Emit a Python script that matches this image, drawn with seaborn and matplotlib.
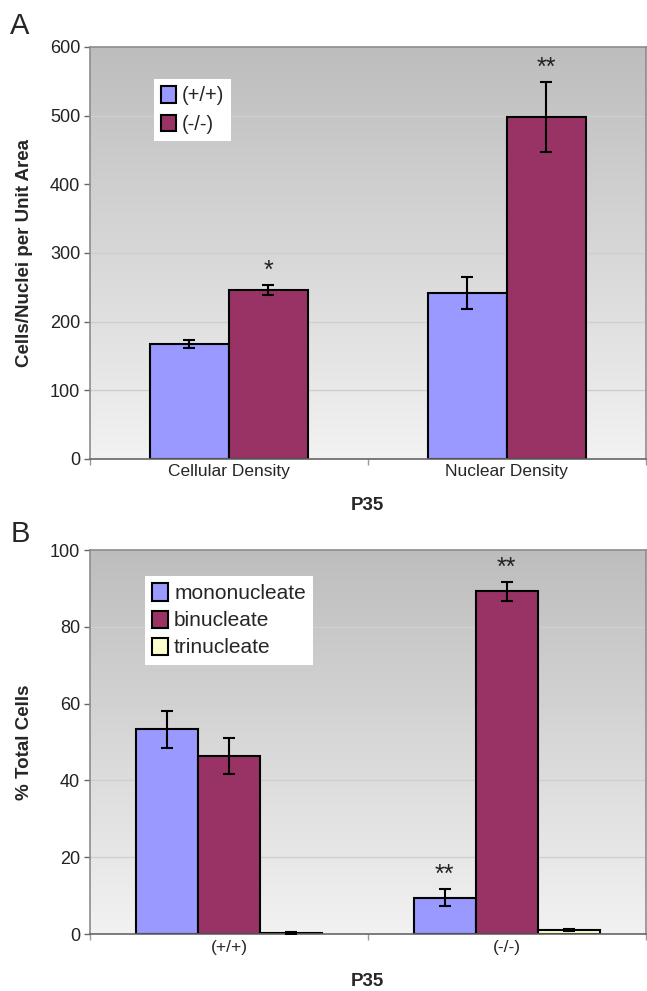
import numpy as np
import pandas as pd
import matplotlib
matplotlib.use("Agg")
import matplotlib.pyplot as plt
import seaborn as sns
from matplotlib.colors import LinearSegmentedColormap

# ---- data ----
a_categories = ["Cellular Density", "Nuclear Density"]
a_genotypes = ["(+/+)", "(-/-)"]
a_values_wt = [167, 242]
a_values_ko = [246, 498]
a_err_wt = [6, 23]
a_err_ko = [7, 51]
a_stars = ["*", "**"]
a_yticks = [0, 100, 200, 300, 400, 500, 600]

b_categories = ["(+/+)", "(-/-)"]
b_types = ["mononucleate", "binucleate", "trinucleate"]
b_mono = [53.3, 9.5]
b_bi = [46.4, 89.2]
b_tri = [0.3, 1.1]
b_err_mono = [4.8, 2.3]
b_err_bi = [4.7, 2.4]
b_err_tri = [0.2, 0.3]
b_stars_mono = ["", "**"]
b_stars_bi = ["", "**"]
b_yticks = [0, 20, 40, 60, 80, 100]

sns.set_theme(style="white")
plt.rcParams["font.family"] = ["Liberation Sans", "DejaVu Sans"]

fig = plt.figure(figsize=(6.47, 9.91), dpi=100)
axA = fig.add_axes([0.139, 0.537, 0.859, 0.4156])
axB = fig.add_axes([0.139, 0.0575, 0.859, 0.3875])

grad = LinearSegmentedColormap.from_list("g", ["#f2f2f2", "#bdbdbd"])


def style_axes(ax, yticks, ylabel, ymax):
    ax.imshow(np.linspace(0, 1, 256).reshape(-1, 1)[::-1], cmap=grad, aspect="auto",
              extent=[0, 1, 0, 1], transform=ax.transAxes, zorder=0)
    ax.set_ylim(0, ymax)
    ax.set_xlim(-0.5, 1.5)
    ax.set_yticks(yticks)
    ax.set_yticklabels([str(t) for t in yticks], fontsize=13, color="#222222")
    for t in yticks[1:-1]:
        ax.axhline(t, color="#cfcfcf", lw=1.0, zorder=0.5)
    for s in ax.spines.values():
        s.set_color("#8c8c8c")
        s.set_linewidth(1.2)
    ax.spines["bottom"].set_color("#666666")
    ax.tick_params(axis="y", length=4, width=1, color="#666666", left=True, pad=3)
    ax.tick_params(axis="x", length=0, pad=4)
    ax.set_xticks([-0.5, 0.5, 1.5], minor=True)
    ax.tick_params(axis="x", which="minor", length=4, width=1, color="#999999", bottom=True)
    ax.set_ylabel(ylabel, fontsize=13.5, fontweight="bold", labelpad=12)
    ax.set_xlabel("P35", fontsize=13.5, fontweight="bold", labelpad=13)


# ---- Panel A ----
dfA = pd.DataFrame({
    "category": a_categories * 2,
    "genotype": [a_genotypes[0]] * 2 + [a_genotypes[1]] * 2,
    "value": a_values_wt + a_values_ko,
})
sns.barplot(data=dfA, x="category", y="value", hue="genotype", hue_order=a_genotypes,
            palette=["#9999ff", "#993366"], saturation=1, edgecolor="black", linewidth=1.5,
            width=0.57, errorbar=None, ax=axA, zorder=2)
style_axes(axA, a_yticks, "Cells/Nuclei per Unit Area", 600)
for t in axA.get_xticklabels():
    t.set_fontsize(12.5)
for cont, errs in zip(axA.containers, [a_err_wt, a_err_ko]):
    for bar, e in zip(cont, errs):
        cx = bar.get_x() + bar.get_width() / 2
        axA.errorbar(cx, bar.get_height(), yerr=e, fmt="none", ecolor="black",
                     elinewidth=1.5, capsize=4, capthick=1.5, zorder=3)
for bar, e, s in zip(axA.containers[1], a_err_ko, a_stars):
    cx = bar.get_x() + bar.get_width() / 2
    axA.text(cx, bar.get_height() + e + 3, s, ha="center", va="bottom",
             fontsize=18, color="#222222", zorder=4)
legA = axA.legend(loc="upper left", bbox_to_anchor=(0.115, 0.922), frameon=True,
                  fontsize=14.5, handlelength=0.75, handleheight=0.9, handletextpad=0.3,
                  borderpad=0.35, labelspacing=0.45, fancybox=False, borderaxespad=0)
legA.get_frame().set_edgecolor("none")
legA.get_frame().set_facecolor("white")
legA.get_frame().set_alpha(1)

# ---- Panel B ----
dfB = pd.DataFrame({
    "category": b_categories * 3,
    "type": [b_types[0]] * 2 + [b_types[1]] * 2 + [b_types[2]] * 2,
    "value": b_mono + b_bi + b_tri,
})
sns.barplot(data=dfB, x="category", y="value", hue="type", hue_order=b_types,
            palette=["#9999ff", "#993366", "#ffffcc"], saturation=1, edgecolor="black",
            linewidth=1.5, width=0.67, errorbar=None, ax=axB, zorder=2)
style_axes(axB, b_yticks, "% Total Cells", 100)
for t in axB.get_xticklabels():
    t.set_fontsize(12.5)
for cont, errs in zip(axB.containers, [b_err_mono, b_err_bi, b_err_tri]):
    for bar, e in zip(cont, errs):
        cx = bar.get_x() + bar.get_width() / 2
        axB.errorbar(cx, bar.get_height(), yerr=e, fmt="none", ecolor="black",
                     elinewidth=1.5, capsize=4, capthick=1.5, zorder=3)
for cont, errs, stars in zip(axB.containers[:2], [b_err_mono, b_err_bi],
                             [b_stars_mono, b_stars_bi]):
    for bar, e, s in zip(cont, errs, stars):
        if s:
            cx = bar.get_x() + bar.get_width() / 2
            axB.text(cx, bar.get_height() + e + 0.6, s, ha="center", va="bottom",
                     fontsize=18, color="#222222", zorder=4)
legB = axB.legend(loc="upper left", bbox_to_anchor=(0.099, 0.932), frameon=True,
                  fontsize=15, handlelength=0.75, handleheight=0.9, handletextpad=0.3,
                  borderpad=0.35, labelspacing=0.35, fancybox=False, borderaxespad=0)
legB.get_frame().set_edgecolor("none")
legB.get_frame().set_facecolor("white")
legB.get_frame().set_alpha(1)

fig.text(0.016, 0.974, "A", fontsize=21, va="center", ha="left")
fig.text(0.016, 0.461, "B", fontsize=21, va="center", ha="left")

fig.savefig("out.png", dpi=100)
